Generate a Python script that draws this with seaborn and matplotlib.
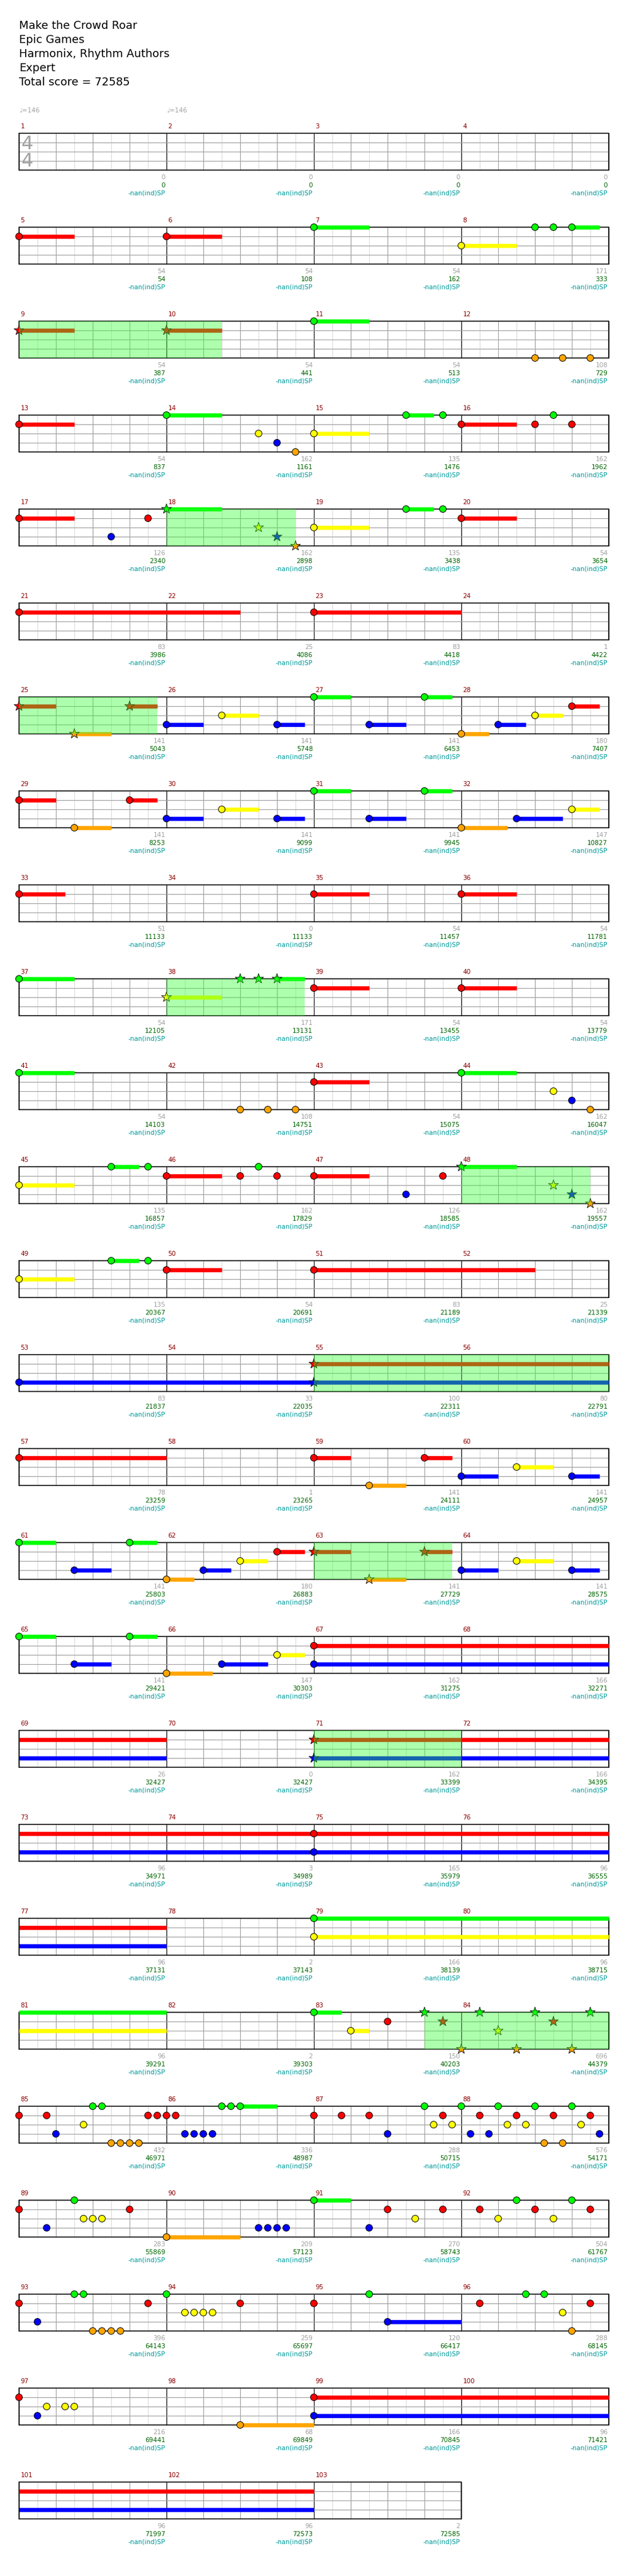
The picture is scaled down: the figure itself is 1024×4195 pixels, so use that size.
import numpy as np
import pandas as pd
import seaborn as sns
import matplotlib.pyplot as plt
from matplotlib.patches import Rectangle

# Song info
title_lines = ["Make the Crowd Roar", "Epic Games", "Harmonix, Rhythm Authors", "Expert"]
total_score = 72585
tempo = 146
n_measures = 103

# Notes per lane: (measure, beat, sustain length in beats)
green_notes = [
    (7, 0, 1.5), (8, 2, 0), (8, 2.5, 0), (8, 3, 0.75),
    (11, 0, 1.5),
    (14, 0, 1.5), (15, 2.5, 0.75), (15, 3.5, 0), (16, 2.5, 0),
    (19, 2.5, 0.75), (19, 3.5, 0),
    (27, 0, 1), (27, 3, 0.75),
    (31, 0, 1), (31, 3, 0.75),
    (37, 0, 1.5),
    (41, 0, 1.5), (44, 0, 1.5),
    (45, 2.5, 0.75), (45, 3.5, 0), (46, 2.5, 0),
    (49, 2.5, 0.75), (49, 3.5, 0),
    (61, 0, 1), (61, 3, 0.75), (65, 0, 1), (65, 3, 0.75),
    (79, 0, 12), (83, 0, 0.75),
    (85, 2, 0), (85, 2.25, 0), (86, 1.5, 0), (86, 1.75, 0), (86, 2, 1),
    (87, 3, 0), (88, 0, 0), (88, 1, 0), (88, 2, 0), (88, 3, 0),
    (89, 1.5, 0), (91, 0, 1), (92, 1.5, 0), (92, 3, 0),
    (93, 1.5, 0), (93, 1.75, 0), (94, 0, 0), (95, 1.5, 0),
    (96, 1.75, 0), (96, 2.25, 0),
]
red_notes = [
    (5, 0, 1.5), (6, 0, 1.5),
    (13, 0, 1.5), (16, 0, 1.5), (16, 2, 0), (16, 3, 0),
    (17, 0, 1.5), (17, 3.5, 0), (20, 0, 1.5),
    (21, 0, 6), (23, 0, 4),
    (28, 3, 0.75),
    (29, 0, 1), (29, 3, 0.75),
    (33, 0, 1.25), (35, 0, 1.5), (36, 0, 1.5),
    (39, 0, 1.5), (40, 0, 1.5),
    (43, 0, 1.5),
    (46, 0, 1.5), (46, 2, 0), (46, 3, 0), (47, 0, 1.5), (47, 3.5, 0),
    (50, 0, 1.5), (51, 0, 6),
    (57, 0, 4), (59, 0, 1), (59, 3, 0.75), (62, 3, 0.75),
    (67, 0, 12), (75, 0, 12), (83, 2, 0),
    (85, 0, 0), (85, 0.75, 0), (85, 3.5, 0), (85, 3.75, 0), (86, 0, 0), (86, 0.25, 0),
    (87, 0, 0), (87, 0.75, 0), (87, 1.5, 0), (87, 3.5, 0),
    (88, 0.5, 0), (88, 1.5, 0), (88, 2.5, 0), (88, 3.5, 0),
    (89, 0, 0), (89, 3, 0), (91, 2, 0), (91, 3.5, 0),
    (92, 0.5, 0), (92, 2, 0), (92, 3.5, 0),
    (93, 0, 0), (93, 3.5, 0), (94, 2, 0), (95, 0, 0),
    (96, 0.5, 0), (96, 3.5, 0), (97, 0, 0), (99, 0, 16),
]
yellow_notes = [
    (8, 0, 1.5),
    (14, 2.5, 0), (15, 0, 1.5),
    (19, 0, 1.5),
    (26, 1.5, 1), (28, 2, 0.75),
    (30, 1.5, 1), (32, 3, 0.75),
    (44, 2.5, 0),
    (45, 0, 1.5),
    (49, 0, 1.5),
    (60, 1.5, 1), (62, 2, 0.75), (64, 1.5, 1), (66, 3, 0.75),
    (79, 0, 12), (83, 1, 0.5),
    (85, 1.75, 0), (87, 3.25, 0), (87, 3.75, 0),
    (88, 1.25, 0), (88, 1.75, 0), (88, 3.25, 0),
    (89, 1.75, 0), (89, 2, 0), (89, 2.25, 0), (91, 2.75, 0),
    (92, 1, 0), (92, 2.5, 0),
    (94, 0.5, 0), (94, 0.75, 0), (94, 1, 0), (94, 1.25, 0), (96, 2.75, 0),
    (97, 0.75, 0), (97, 1.25, 0), (97, 1.5, 0),
]
blue_notes = [
    (14, 3, 0),
    (17, 2.5, 0),
    (26, 0, 1), (26, 3, 0.75), (27, 1.5, 1), (28, 1, 0.75),
    (30, 0, 1), (30, 3, 0.75), (31, 1.5, 1), (32, 1.5, 1.25),
    (44, 3, 0),
    (47, 2.5, 0),
    (53, 0, 8),
    (60, 0, 1), (60, 3, 0.75), (61, 1.5, 1), (62, 1, 0.75),
    (64, 0, 1), (64, 3, 0.75), (65, 1.5, 1), (66, 1.5, 1.25),
    (67, 0, 12), (75, 0, 12),
    (85, 1, 0), (86, 0.5, 0), (86, 0.75, 0), (86, 1, 0), (86, 1.25, 0),
    (87, 2, 0), (88, 0.25, 0), (88, 0.75, 0), (88, 3.75, 0),
    (89, 0.75, 0), (90, 2.5, 0), (90, 2.75, 0), (90, 3, 0), (90, 3.25, 0),
    (91, 1.5, 0), (93, 0.5, 0), (95, 2, 2), (97, 0.5, 0), (99, 0, 16),
]
orange_notes = [
    (12, 2, 0), (12, 2.75, 0), (12, 3.5, 0),
    (14, 3.5, 0),
    (28, 0, 0.75),
    (29, 1.5, 1), (32, 0, 1.25),
    (42, 2, 0), (42, 2.75, 0), (42, 3.5, 0),
    (44, 3.5, 0),
    (59, 1.5, 1), (62, 0, 0.75), (66, 0, 1.25),
    (85, 2.5, 0), (85, 2.75, 0), (85, 3, 0), (85, 3.25, 0),
    (88, 2.25, 0), (88, 2.75, 0),
    (90, 0, 2), (93, 2, 0), (93, 2.25, 0), (93, 2.5, 0), (93, 2.75, 0),
    (96, 3, 0), (98, 2, 2),
]
# Star power notes: (measure, beat, lane, sustain)
star_notes = [
    (9, 0, 1, 1.5), (10, 0, 1, 1.5),
    (18, 0, 0, 1.5), (18, 2.5, 2, 0), (18, 3, 3, 0), (18, 3.5, 4, 0),
    (25, 0, 1, 1), (25, 1.5, 4, 1), (25, 3, 1, 0.75),
    (38, 0, 2, 1.5), (38, 2, 0, 0), (38, 2.5, 0, 0), (38, 3, 0, 0.75),
    (48, 0, 0, 1.5), (48, 2.5, 2, 0), (48, 3, 3, 0), (48, 3.5, 4, 0),
    (55, 0, 1, 8), (55, 0, 3, 8),
    (63, 0, 1, 1), (63, 1.5, 4, 1), (63, 3, 1, 0.75),
    (71, 0, 1, 16), (71, 0, 3, 16),
    (83, 3, 0, 0), (83, 3.5, 1, 0), (84, 0, 4, 0), (84, 0.5, 0, 0), (84, 1, 2, 0),
    (84, 1.5, 4, 0), (84, 2, 0, 0), (84, 2.5, 1, 0), (84, 3, 4, 0), (84, 3.5, 0, 0),
]
# Star power phrases: (start measure, start beat, end measure, end beat)
sp_phrases = [(9, 0, 10, 1.5), (18, 0, 18, 3.5), (25, 0, 25, 3.75),
              (38, 0, 38, 3.75), (48, 0, 48, 3.5), (55, 0, 57, 0),
              (63, 0, 63, 3.75), (71, 0, 72, 0), (83, 3, 85, 0)]

measure_scores = [0, 0, 0, 0, 54, 54, 54, 171, 54, 54, 54, 108, 54, 162, 135, 162,
                  126, 162, 135, 54, 83, 25, 83, 1, 141, 141, 141, 180, 141, 141, 141, 147,
                  51, 0, 54, 54, 54, 171, 54, 54, 54, 108, 54, 162, 135, 162, 126, 162,
                  135, 54, 83, 25, 83, 33, 100, 80, 78, 1, 141, 141, 141, 180, 141, 141,
                  141, 147, 162, 166, 26, 0, 162, 166, 96, 3, 165, 96, 96, 2, 166, 96,
                  96, 2, 150, 696, 432, 336, 288, 576, 283, 209, 270, 504, 396, 259, 120, 288,
                  216, 68, 166, 96, 96, 96, 2]
cumulative = [0, 0, 0, 0, 54, 108, 162, 333, 387, 441, 513, 729, 837, 1161, 1476, 1962,
              2340, 2898, 3438, 3654, 3986, 4086, 4418, 4422, 5043, 5748, 6453, 7407,
              8253, 9099, 9945, 10827, 11133, 11133, 11457, 11781, 12105, 13131, 13455,
              13779, 14103, 14751, 15075, 16047, 16857, 17829, 18585, 19557, 20367,
              20691, 21189, 21339, 21837, 22035, 22311, 22791, 23259, 23265, 24111, 24957,
              25803, 26883, 27729, 28575, 29421, 30303, 31275, 32271, 32427, 32427, 33399,
              34395, 34971, 34989, 35979, 36555, 37131, 37143, 38139, 38715, 39291, 39303,
              40203, 44379, 46971, 48987, 50715, 54171, 55869, 57123, 58743, 61767, 64143,
              65697, 66417, 68145, 69441, 69849, 70845, 71421, 71997, 72573, 72585]

lane_names = ["green", "red", "yellow", "blue", "orange"]
lane_colors = {"green": "#00ff00", "red": "#ff0000", "yellow": "#ffff00",
               "blue": "#0000ff", "orange": "#ffa500"}

W, H = 1024, 4195
X0, Y0, BEAT_PX, LANE_PX, ROW_PX = 31, 217, 60, 15, 153
ROW = ROW_PX / LANE_PX

sns.set_style("white")
plt.rcParams["font.family"] = ["DejaVu Sans"]

fig = plt.figure(figsize=(W / 100, H / 100), dpi=100)
ax = fig.add_axes([0, 0, 1, 1])


def where(measure, beat):
    b = (measure - 1) * 4 + beat
    row = int(b // 16)
    return row, b - row * 16


def pieces(a, b):
    # split an absolute-beat span at row ends
    while a < b - 1e-9:
        row = int(a // 16)
        end = min(b, (row + 1) * 16)
        yield row, a - row * 16, end - row * 16
        a = end


# staff grid
n_rows = (n_measures + 3) // 4
for r in range(n_rows):
    nm = min(4, n_measures - r * 4)
    y0 = r * ROW
    for k in range(nm * 8 + 1):
        if k % 8 == 0:
            c = "black"
        elif k % 2 == 0:
            c = "#a0a0a0"
        else:
            c = "#dcdcdc"
        ax.vlines(k * 0.5, y0, y0 + 4, colors=c, lw=0.8, zorder=1)
    ax.hlines([y0 + 1, y0 + 2, y0 + 3], 0, nm * 4, colors="#a0a0a0", lw=0.8, zorder=1)
    ax.add_patch(Rectangle((0, y0), nm * 4, 4, fill=False, ec="black", lw=1.1, zorder=2))

# collect notes into a frame
rows = []
for lane, notes in enumerate([green_notes, red_notes, yellow_notes, blue_notes, orange_notes]):
    for m, b, s in notes:
        rows.append(dict(measure=m, beat=b, lane=lane, sustain=s, star=False))
for m, b, lane, s in star_notes:
    rows.append(dict(measure=m, beat=b, lane=lane, sustain=s, star=True))
df = pd.DataFrame(rows)
pos = [where(m, b) for m, b in zip(df.measure, df.beat)]
df["row"] = [p[0] for p in pos]
df["x"] = [p[1] for p in pos]
df["y"] = df["row"] * ROW + df["lane"]
df["color"] = df["lane"].map(lambda l: lane_names[l])

# sustains
for _, n in df[df.sustain > 0].iterrows():
    a = (n.measure - 1) * 4 + n.beat
    for r, xa, xb in pieces(a, a + n.sustain):
        ax.hlines(r * ROW + n.lane, xa, xb, colors=lane_colors[n.color], lw=4.8,
                  capstyle="butt", zorder=3)

sns.scatterplot(data=df[~df.star], x="x", y="y", hue="color", palette=lane_colors,
                s=62, edgecolor="black", linewidth=0.7, legend=False, ax=ax, zorder=5)
sns.scatterplot(data=df[df.star], x="x", y="y", hue="color", palette=lane_colors,
                marker="*", s=150, edgecolor="black", linewidth=0.6, legend=False,
                ax=ax, zorder=5)
ax.set_xlim(-X0 / BEAT_PX, (W - X0) / BEAT_PX)
ax.set_ylim((H - Y0) / LANE_PX, -Y0 / LANE_PX)
ax.axis("off")

# star power overlay
for m0, b0, m1, b1 in sp_phrases:
    a = (m0 - 1) * 4 + b0
    e = (m1 - 1) * 4 + b1
    for r, xa, xb in pieces(a, e):
        ax.add_patch(Rectangle((xa, r * ROW), xb - xa, 4, fc=(0.2, 1, 0.2, 0.4),
                               ec="none", zorder=6))

# measure labels and scores
for m in range(1, n_measures + 1):
    r, x = where(m, 0)
    y0 = r * ROW
    ax.text(x + 0.04, y0 - 0.75, str(m), color="#8b0000", fontsize=7.5,
            ha="left", va="center")
    xe = x + 4 - 0.03
    ax.text(xe, y0 + 4.8, str(measure_scores[m - 1]), color="#a0a0a0",
            fontsize=7.5, ha="right", va="center")
    ax.text(xe, y0 + 5.67, str(cumulative[m - 1]), color="#006400",
            fontsize=7.5, ha="right", va="center")
    ax.text(xe, y0 + 6.53, "-nan(ind)SP", color="#009999",
            fontsize=7.5, ha="right", va="center")

# tempo marks and time signature
for m in (1, 2):
    r, x = where(m, 0)
    ax.text(x, -2.45, "\u2669=" + str(tempo), color="#a0a0a0", fontsize=7.5,
            ha="left", va="center")
ax.text(0.22, 1.15, "4", color="#a0a0a0", fontsize=22, ha="center", va="center")
ax.text(0.22, 3.05, "4", color="#a0a0a0", fontsize=22, ha="center", va="center")

# header
for i, line in enumerate(title_lines + ["Total score = " + str(total_score)]):
    ax.text(0, (42 + 23 * i - Y0) / LANE_PX, line, fontsize=13, color="black",
            ha="left", va="center")

fig.savefig("out.png", dpi=100)
